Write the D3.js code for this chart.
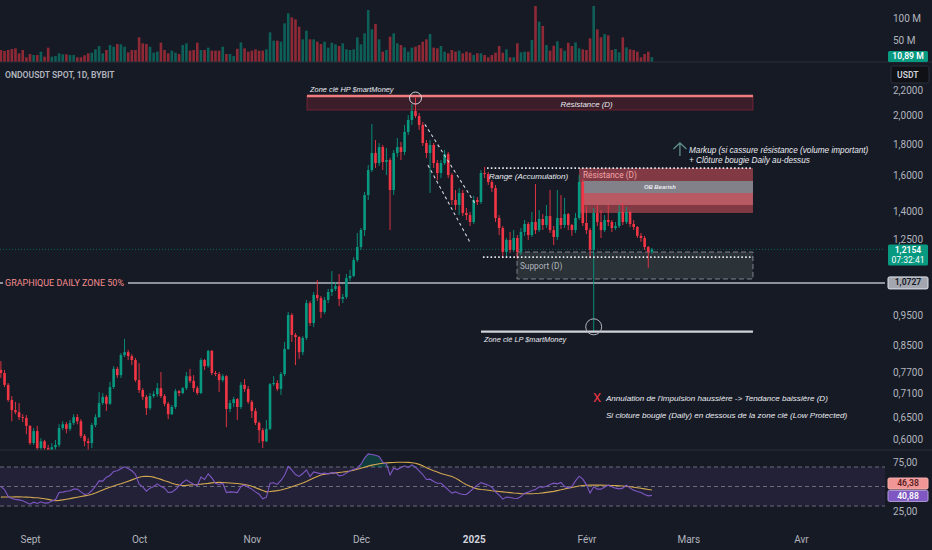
<!DOCTYPE html>
<html>
<head>
<meta charset="utf-8">
<script src="https://cdnjs.cloudflare.com/ajax/libs/d3/7.8.5/d3.min.js"></script>
<style>
  html, body { margin: 0; padding: 0; background: #161a25; }
  svg { display: block; }
  text { font-family: Roboto, "Liberation Sans", sans-serif; }
  .note { font-family: "Liberation Sans", Roboto, sans-serif; font-style: italic; fill: #e9ebf0; }
</style>
</head>
<body>
<svg id="chart" width="932" height="550"></svg>
<script>
// ONDOUSDT daily candles, first bar 2024-08-24, last bar 2025-02-19
var firstDay = "2024-08-24"
var firstOpen = 0.776

var closes = [
  0.767, 0.734, 0.694, 0.668, 0.663, 0.651, 0.649, 0.630, 0.591, 0.618,
  0.580, 0.595, 0.580, 0.572, 0.582, 0.587, 0.625, 0.634, 0.623, 0.637,
  0.651, 0.641, 0.607, 0.595, 0.591, 0.632, 0.651, 0.686, 0.702, 0.684,
  0.728, 0.779, 0.761, 0.820, 0.829, 0.817, 0.805, 0.747, 0.720, 0.702,
  0.673, 0.704, 0.709, 0.725, 0.704, 0.684, 0.658, 0.676, 0.717, 0.712,
  0.725, 0.758, 0.745, 0.725, 0.712, 0.805, 0.787, 0.833, 0.767, 0.764,
  0.747, 0.758, 0.671, 0.686, 0.696, 0.676, 0.734, 0.723, 0.689, 0.666,
  0.637, 0.620, 0.595, 0.623, 0.736, 0.739, 0.723, 0.764, 0.839, 0.952,
  0.884, 0.877, 0.829, 0.874, 0.995, 0.924, 1.026, 1.014, 0.963, 1.007,
  1.037, 1.049, 1.060, 1.011, 1.018, 1.092, 1.101, 1.168, 1.226, 1.306,
  1.488, 1.633, 1.740, 1.676, 1.779, 1.683, 1.695, 1.516, 1.740, 1.779,
  1.747, 1.882, 1.968, 2.035, 1.997, 1.931, 1.806, 1.740, 1.793, 1.676,
  1.615, 1.676, 1.733, 1.603, 1.461, 1.434, 1.499, 1.392, 1.381, 1.346,
  1.461, 1.450, 1.615, 1.609, 1.562, 1.527, 1.366, 1.316, 1.204, 1.259,
  1.213, 1.268, 1.204, 1.297, 1.336, 1.282, 1.346, 1.306, 1.361, 1.331,
  1.376, 1.306, 1.273, 1.366, 1.331, 1.386, 1.331, 1.306, 1.366, 1.562,
  1.341, 1.306, 1.213, 1.392, 1.346, 1.306, 1.356, 1.346, 1.316, 1.326,
  1.397, 1.346, 1.397, 1.336, 1.321, 1.278, 1.268, 1.226, 1.204, 1.2154
]

var highs = [
  0.802, 0.776, 0.739, 0.704, 0.689, 0.686, 0.658, 0.656, 0.632, 0.625,
  0.630, 0.602, 0.598, 0.587, 0.591, 0.598, 0.634, 0.641, 0.639, 0.644,
  0.658, 0.658, 0.646, 0.611, 0.602, 0.637, 0.658, 0.715, 0.712, 0.707,
  0.742, 0.787, 0.785, 0.826, 0.871, 0.836, 0.823, 0.811, 0.796, 0.725,
  0.707, 0.712, 0.717, 0.739, 0.770, 0.709, 0.689, 0.681, 0.723, 0.720,
  0.728, 0.770, 0.779, 0.761, 0.731, 0.811, 0.808, 0.836, 0.836, 0.773,
  0.770, 0.764, 0.761, 0.694, 0.702, 0.699, 0.742, 0.750, 0.731, 0.694,
  0.673, 0.641, 0.625, 0.644, 0.739, 0.758, 0.747, 0.770, 0.861, 0.963,
  0.959, 0.890, 0.880, 0.880, 1.007, 1.003, 1.037, 1.084, 1.022, 1.018,
  1.049, 1.121, 1.076, 1.109, 1.030, 1.109, 1.126, 1.181, 1.292, 1.316,
  1.505, 1.664, 1.938, 1.826, 1.806, 1.793, 1.773, 1.708, 1.760, 1.840,
  1.813, 1.931, 2.004, 2.088, 2.139, 2.019, 1.953, 1.826, 1.826, 1.806,
  1.695, 1.695, 1.760, 1.747, 1.615, 1.516, 1.527, 1.516, 1.418, 1.397,
  1.483, 1.477, 1.633, 1.652, 1.621, 1.574, 1.545, 1.381, 1.326, 1.268,
  1.297, 1.306, 1.282, 1.316, 1.356, 1.346, 1.397, 1.550, 1.407, 1.386,
  1.434, 1.516, 1.326, 1.516, 1.488, 1.472, 1.392, 1.336, 1.392, 1.603,
  1.579, 1.428, 1.316, 1.418, 1.434, 1.407, 1.381, 1.434, 1.356, 1.346,
  1.434, 1.444, 1.423, 1.403, 1.356, 1.326, 1.292, 1.278, 1.231, 1.222
]

var lows = [
  0.753, 0.728, 0.689, 0.641, 0.658, 0.644, 0.639, 0.611, 0.587, 0.587,
  0.576, 0.574, 0.572, 0.561, 0.565, 0.576, 0.582, 0.620, 0.613, 0.618,
  0.632, 0.634, 0.602, 0.584, 0.572, 0.580, 0.627, 0.649, 0.681, 0.666,
  0.681, 0.723, 0.753, 0.753, 0.814, 0.805, 0.790, 0.742, 0.712, 0.694,
  0.656, 0.668, 0.699, 0.702, 0.699, 0.678, 0.646, 0.656, 0.671, 0.704,
  0.709, 0.720, 0.739, 0.715, 0.707, 0.709, 0.776, 0.782, 0.761, 0.758,
  0.715, 0.742, 0.627, 0.663, 0.676, 0.644, 0.671, 0.715, 0.684, 0.649,
  0.632, 0.591, 0.580, 0.593, 0.620, 0.731, 0.717, 0.707, 0.758, 0.836,
  0.861, 0.790, 0.808, 0.820, 0.867, 0.914, 0.910, 1.003, 0.941, 0.956,
  0.995, 1.022, 1.041, 0.984, 0.995, 1.011, 1.080, 1.096, 1.160, 1.213,
  1.278, 1.461, 1.621, 1.646, 1.658, 1.633, 1.603, 1.306, 1.488, 1.714,
  1.695, 1.727, 1.861, 1.931, 1.982, 1.896, 1.786, 1.708, 1.499, 1.646,
  1.574, 1.585, 1.664, 1.585, 1.434, 1.407, 1.381, 1.376, 1.356, 1.326,
  1.336, 1.434, 1.439, 1.585, 1.545, 1.505, 1.346, 1.282, 1.177, 1.181,
  1.199, 1.204, 1.173, 1.190, 1.278, 1.259, 1.273, 1.287, 1.297, 1.306,
  1.316, 1.292, 1.235, 1.259, 1.311, 1.316, 1.306, 1.278, 1.292, 1.356,
  1.326, 1.287, 1.177, 0.894, 1.326, 1.268, 1.297, 1.326, 1.297, 1.306,
  1.316, 1.331, 1.336, 1.321, 1.306, 1.268, 1.250, 1.213, 1.135, 1.195
]

// volume in millions
var volumes = [
  27.3, 25.0, 27.3, 29.5, 31.1, 19.7, 27.3, 10.6, 18.2, 15.9,
  15.9, 23.5, 12.1, 32.6, 12.1, 13.6, 19.7, 17.4, 17.4, 15.9,
  15.9, 10.6, 10.6, 15.2, 19.7, 21.2, 28.8, 36.4, 19.7, 27.3,
  38.6, 34.8, 40.9, 40.2, 34.8, 22.0, 27.3, 27.3, 56.1, 42.4,
  40.9, 34.8, 21.2, 23.5, 43.9, 27.3, 19.7, 25.8, 21.2, 18.2,
  38.6, 42.4, 25.8, 27.3, 43.9, 27.3, 27.3, 32.6, 25.8, 25.8,
  25.8, 34.8, 18.2, 18.2, 13.6, 30.0, 44.7, 31.1, 23.5, 25.8,
  28.8, 25.8, 25.8, 28.8, 67.4, 48.5, 48.5, 46.2, 87.9, 110.6,
  101.5, 97.0, 80.3, 51.5, 71.2, 51.5, 51.5, 46.2, 40.9, 46.2,
  32.6, 43.9, 40.2, 36.4, 42.4, 28.8, 27.3, 28.8, 56.1, 40.2,
  65.2, 118.2, 74.2, 86.4, 51.5, 23.5, 27.3, 57.6, 65.2, 42.4,
  38.6, 33.3, 23.5, 32.6, 34.8, 38.6, 46.2, 51.5, 63.6, 32.6,
  31.1, 36.4, 23.5, 19.7, 27.3, 23.5, 25.8, 19.7, 23.5, 21.2,
  15.9, 19.7, 19.7, 15.9, 10.6, 15.9, 21.2, 36.4, 21.2, 28.8,
  10.6, 10.6, 42.4, 22.0, 23.5, 23.5, 50.0, 127.3, 91.7, 81.8,
  38.6, 25.8, 37.1, 47.0, 31.1, 25.8, 43.9, 36.4, 44.7, 31.1,
  28.8, 27.3, 53.8, 127.3, 74.2, 56.1, 63.6, 60.6, 27.3, 29.5,
  22.0, 56.1, 33.3, 28.8, 27.3, 23.5, 10.6, 18.2, 23.5, 10.89
]

var rsi = [
  49.7, 46.9, 39.7, 37.7, 36.8, 36.3, 35.3, 33.6, 31.9, 33.9,
  32.6, 34.3, 32.9, 33.2, 35.0, 36.3, 43.8, 44.2, 45.2, 45.6,
  47.3, 47.3, 44.5, 41.8, 42.5, 45.9, 50.3, 55.8, 55.5, 59.6,
  61.3, 65.4, 66.1, 68.1, 70.2, 68.5, 66.1, 62.6, 52.4, 49.7,
  45.2, 48.3, 50.0, 52.7, 50.0, 48.3, 43.8, 44.2, 46.9, 50.7,
  54.1, 56.8, 54.4, 52.4, 51.0, 59.6, 57.2, 63.0, 58.9, 53.4,
  52.1, 53.4, 43.8, 44.5, 44.2, 43.8, 50.0, 51.4, 49.3, 47.3,
  44.5, 42.1, 37.4, 39.1, 53.4, 53.8, 52.1, 56.2, 61.6, 70.5,
  66.8, 62.3, 60.3, 63.3, 67.1, 60.3, 65.0, 64.0, 63.0, 63.7,
  63.0, 64.0, 64.4, 60.9, 61.6, 63.7, 66.1, 67.8, 68.8, 72.9,
  79.1, 83.5, 82.8, 82.1, 80.8, 75.0, 73.2, 62.0, 68.8, 67.4,
  69.5, 71.2, 69.5, 72.2, 69.8, 66.1, 62.3, 57.2, 57.5, 55.1,
  53.4, 53.4, 50.0, 46.6, 43.2, 44.5, 42.8, 41.8, 41.8, 44.9,
  48.3, 51.4, 54.1, 52.7, 51.4, 49.3, 44.5, 41.1, 37.0, 39.1,
  38.7, 38.0, 37.7, 39.7, 43.2, 44.2, 45.9, 46.9, 49.7, 49.3,
  50.3, 52.1, 53.4, 52.7, 54.1, 50.0, 48.6, 50.0, 55.8, 60.6,
  57.5, 51.7, 43.2, 49.7, 47.3, 47.3, 49.3, 51.4, 49.7, 48.3,
  47.6, 48.3, 51.4, 48.3, 46.2, 44.9, 43.8, 41.8, 40.4, 40.88
]

var rsiMa = [
  39.1, 39.2, 39.3, 39.3, 39.4, 39.4, 39.3, 39.1, 38.9, 38.6,
  38.4, 38.0, 37.4, 36.8, 36.0, 35.5, 35.8, 36.3, 37.0, 37.6,
  38.3, 39.0, 39.7, 40.4, 41.0, 42.0, 43.3, 44.8, 46.3, 47.9,
  49.3, 50.6, 51.7, 52.8, 54.0, 55.4, 56.8, 58.2, 59.4, 60.2,
  60.4, 60.2, 59.6, 58.5, 57.3, 56.0, 54.8, 53.4, 52.3, 51.4,
  51.0, 51.2, 51.5, 51.8, 52.1, 52.4, 52.8, 53.2, 53.7, 54.1,
  54.2, 54.1, 53.9, 53.6, 53.3, 53.0, 52.6, 52.0, 51.3, 50.2,
  48.8, 47.3, 45.8, 44.5, 44.8, 45.3, 45.8, 46.4, 47.4, 48.5,
  49.7, 51.0, 52.2, 53.6, 55.1, 56.8, 58.6, 60.3, 61.8, 62.6,
  63.2, 63.7, 64.0, 64.4, 64.8, 65.3, 65.9, 66.7, 67.6, 68.7,
  69.8, 70.9, 71.9, 72.6, 73.3, 73.8, 74.2, 74.5, 74.6, 74.8,
  74.9, 74.9, 74.7, 74.4, 73.8, 72.7, 71.2, 69.3, 67.6, 66.2,
  64.9, 63.4, 62.3, 61.3, 60.3, 58.6, 56.4, 54.0, 51.8, 50.2,
  48.8, 47.6, 47.0, 46.6, 46.2, 45.7, 45.3, 44.9, 44.5, 44.1,
  43.7, 43.3, 43.0, 42.7, 42.5, 42.5, 42.6, 42.8, 43.1, 43.5,
  44.0, 44.5, 45.0, 45.8, 46.6, 47.5, 48.3, 49.0, 49.7, 50.5,
  51.0, 51.3, 51.4, 51.4, 51.4, 51.4, 51.3, 51.2, 51.0, 50.9,
  50.7, 50.5, 50.2, 49.8, 49.3, 48.8, 48.2, 47.6, 47.0, 46.38
]

var priceTicks = [2.2, 2.0, 1.8, 1.6, 1.4, 1.25, 0.95, 0.85, 0.77, 0.71, 0.65, 0.60]
var volumeTicks = [50, 100]
var rsiTicks = [25, 75]
var rsiLevels = [70, 50, 30]
var monthTicks = ["2024-09-01", "2024-10-01", "2024-11-01", "2024-12-01", "2025-01-01", "2025-02-01", "2025-03-01", "2025-04-01"]
var monthLabels = ["Sept", "Oct", "Nov", "Déc", "2025", "Févr", "Mars", "Avr"]

// drawing anchors (time, price)
var zone50 = 1.0727
var hpZone = ["2024-11-16T04", "2025-03-18T19", 2.151, 2.042]
var hpMark = ["2024-12-16", 2.135]
var channelA = [["2024-12-18T14", 1.936], ["2025-01-01T15", 1.434]]
var channelB = [["2024-12-19T10", 1.664], ["2024-12-31T06", 1.240]]
var rangeTop = ["2025-01-04T16", "2025-03-18T19", 1.645]
var rangeBottom = ["2025-01-03T13", "2025-03-18T19", 1.181]
var resistBox = ["2025-01-29T23", "2025-03-18T19", 1.645, 1.392]
var obBox = ["2025-01-30T23", "2025-03-18T19", 1.568, 1.499, 1.434]
var supportBox = ["2025-01-12T22", "2025-03-18T19", 1.2036, 1.0886]
var lpZone = ["2025-01-03", "2025-03-18T19", 0.895]
var lpMark = ["2025-02-03", 0.911]
var notes = [
  { t: "2024-11-17", p: 2.184, text: "Zone clé HP $martMoney", anchor: "start", size: 7.4 },
  { t: "2025-02-01T01", p: 2.065, text: "Résistance (D)", anchor: "middle", size: 7.9 },
  { t: "2025-01-05T05", p: 1.580, text: "Range (Accumulation)", anchor: "start", size: 8 },
  { t: "2025-02-21T05", p: 1.519, text: "OB Bearish", anchor: "middle", size: 5.9, bold: true },
  { t: "2025-03-01T05", p: 1.743, text: "Markup (si cassure résistance (volume important)", anchor: "start", size: 8.2 },
  { t: "2025-03-01T05", p: 1.679, text: "+ Clôture bougie Daily au-dessus", anchor: "start", size: 8.2 },
  { t: "2025-01-03T20", p: 0.861, text: "Zone clé LP $martMoney", anchor: "start", size: 7.4 },
  { t: "2025-02-06T09", p: 0.690, text: "Annulation de l'impulsion haussière -> Tendance baissière (D)", anchor: "start", size: 8.1 },
  { t: "2025-02-06T09", p: 0.6476, text: "Si cloture bougie (Daily) en dessous de la zone clé (Low Protected)", anchor: "start", size: 8.1 }
]
var resistLabel = ["2025-01-31T01", 1.585]
var supportLabel = ["2025-01-13T17", 1.130]
var markupArrow = ["2025-02-26T17", 1.806, 1.721]
var crossMark = ["2025-02-03T22", 0.7016]

var UP = "#089981", DOWN = "#f23645", BG = "#161a25", AXIS_TXT = "#b2b5be"
var W = 932, H = 550, plotR = 885

var parseDay = d3.utcParse("%Y-%m-%d"), parseHour = d3.utcParse("%Y-%m-%dT%H")
function T(s) { return s.length > 10 ? parseHour(s) : parseDay(s) }

var fr = d3.formatLocale({ decimal: ",", thousands: " ", grouping: [3], currency: ["", " €"] })
var f4 = fr.format(".4f"), f2 = fr.format(".2f")

var x = d3.scaleUtc().domain([T("2024-09-01"), T("2025-04-01")]).range([30, 801])
var y = d3.scaleLog().domain([0.6, 2.2]).range([439, 90])
var yVol = d3.scaleLinear().domain([0, 141]).range([62, 0])
var yRsi = d3.scaleLinear().domain([30, 70]).range([506, 467])

var day0 = T(firstDay)
var candles = closes.map(function(c, i) {
    var o = i ? closes[i - 1] : firstOpen
    return { date: d3.utcDay.offset(day0, i), o: o, h: highs[i], l: lows[i], c: c, v: volumes[i], up: c >= o }
})
var last = candles[candles.length - 1]

var svg = d3.select("#chart")
svg.append("rect").attr("width", W).attr("height", H).attr("fill", BG)

var defs = svg.append("defs")
function clip(id, x0, y0, w, h) {
    defs.append("clipPath").attr("id", id).append("rect")
        .attr("x", x0).attr("y", y0).attr("width", w).attr("height", h)
}
clip("cp-price", 0, 63, plotR, 387)
clip("cp-vol", 0, 0, plotR, 62)
clip("cp-rsi", 0, 451, plotR, 72)

// ---- RSI pane background
var rsiG = svg.append("g").attr("clip-path", "url(#cp-rsi)")
rsiG.append("rect")
    .attr("x", 0).attr("width", plotR)
    .attr("y", yRsi(70)).attr("height", yRsi(30) - yRsi(70))
    .attr("fill", "rgba(126,87,194,0.12)")
rsiG.selectAll(".lvl").data(rsiLevels).enter().append("line")
    .attr("x1", 0).attr("x2", plotR)
    .attr("y1", function(d) { return yRsi(d) }).attr("y2", function(d) { return yRsi(d) })
    .attr("stroke", "#6a6d78").attr("stroke-width", 1).attr("stroke-dasharray", "4,3")

// ---- price pane
var pg = svg.append("g").attr("clip-path", "url(#cp-price)")

// boxes under candles
pg.append("rect")
    .attr("x", x(T(hpZone[0]))).attr("width", x(T(hpZone[1])) - x(T(hpZone[0])))
    .attr("y", y(hpZone[2])).attr("height", y(hpZone[3]) - y(hpZone[2]))
    .attr("fill", "rgba(242,54,69,0.17)").attr("stroke", "rgba(242,54,69,0.35)").attr("stroke-width", 1)

pg.append("rect")
    .attr("x", x(T(resistBox[0]))).attr("width", x(T(resistBox[1])) - x(T(resistBox[0])))
    .attr("y", y(resistBox[2])).attr("height", y(resistBox[3]) - y(resistBox[2]))
    .attr("fill", "rgba(235,90,100,0.5)")

pg.append("rect")
    .attr("x", x(T(obBox[0]))).attr("width", x(T(obBox[1])) - x(T(obBox[0])))
    .attr("y", y(obBox[2])).attr("height", y(obBox[4]) - y(obBox[2]))
    .attr("fill", "rgba(250,130,140,0.45)")
pg.append("rect")
    .attr("x", x(T(obBox[0]))).attr("width", x(T(obBox[1])) - x(T(obBox[0])))
    .attr("y", y(obBox[2])).attr("height", y(obBox[3]) - y(obBox[2]))
    .attr("fill", "rgba(128,129,138,0.97)")

pg.append("rect")
    .attr("x", x(T(supportBox[0]))).attr("width", x(T(supportBox[1])) - x(T(supportBox[0])))
    .attr("y", y(supportBox[2])).attr("height", y(supportBox[3]) - y(supportBox[2]))
    .attr("fill", "rgba(140,160,145,0.18)").attr("stroke", "#80838d").attr("stroke-width", 1)
    .attr("stroke-dasharray", "5,3")

// horizontal level 50% + current price
pg.append("line")
    .attr("x1", 0).attr("x2", plotR).attr("y1", y(zone50)).attr("y2", y(zone50))
    .attr("stroke", "#b8bac2").attr("stroke-width", 1.4)
pg.append("line")
    .attr("x1", 0).attr("x2", plotR).attr("y1", y(last.c)).attr("y2", y(last.c))
    .attr("stroke", UP).attr("stroke-opacity", 0.6).attr("stroke-width", 1).attr("stroke-dasharray", "1,2")

// candles
var cw = 2.6
var cg = pg.append("g")
cg.selectAll(".wick").data(candles).enter().append("line")
    .attr("x1", function(d) { return x(d.date) }).attr("x2", function(d) { return x(d.date) })
    .attr("y1", function(d) { return y(d.h) }).attr("y2", function(d) { return y(d.l) })
    .attr("stroke", function(d) { return d.up ? UP : DOWN }).attr("stroke-width", 0.9)
cg.selectAll(".body").data(candles).enter().append("rect")
    .attr("x", function(d) { return x(d.date) - cw / 2 }).attr("width", cw)
    .attr("y", function(d) { return y(Math.max(d.o, d.c)) })
    .attr("height", function(d) { return Math.max(0.9, Math.abs(y(d.o) - y(d.c))) })
    .attr("fill", function(d) { return d.up ? UP : DOWN })

// drawings above candles
pg.append("line")
    .attr("x1", x(T(hpZone[0]))).attr("x2", x(T(hpZone[1])))
    .attr("y1", y(hpZone[2])).attr("y2", y(hpZone[2]))
    .attr("stroke", "#f07c7f").attr("stroke-width", 2.6)

pg.append("circle")
    .attr("cx", x(T(hpMark[0]))).attr("cy", y(hpMark[1])).attr("r", 6)
    .attr("fill", "none").attr("stroke", "#d1d4dc").attr("stroke-width", 1)

;[channelA, channelB].forEach(function(seg) {
    pg.append("line")
        .attr("x1", x(T(seg[0][0]))).attr("y1", y(seg[0][1]))
        .attr("x2", x(T(seg[1][0]))).attr("y2", y(seg[1][1]))
        .attr("stroke", "#d1d4dc").attr("stroke-width", 1.1).attr("stroke-dasharray", "3,3")
})

;[rangeTop, rangeBottom].forEach(function(r) {
    pg.append("line")
        .attr("x1", x(T(r[0]))).attr("x2", x(T(r[1])))
        .attr("y1", y(r[2])).attr("y2", y(r[2]))
        .attr("stroke", "#e8e9ee").attr("stroke-width", 1.6).attr("stroke-dasharray", "1.6,2.2")
})

pg.append("line")
    .attr("x1", x(T(lpZone[0]))).attr("x2", x(T(lpZone[1])))
    .attr("y1", y(lpZone[2])).attr("y2", y(lpZone[2]))
    .attr("stroke", "#cfd2d8").attr("stroke-width", 2.4)

pg.append("circle")
    .attr("cx", x(T(lpMark[0]))).attr("cy", y(lpMark[1])).attr("r", 8)
    .attr("fill", "none").attr("stroke", "#b2b5be").attr("stroke-width", 1)

// labels in boxes
pg.append("text")
    .attr("x", x(T(resistLabel[0]))).attr("y", y(resistLabel[1]))
    .attr("font-size", 8.3).attr("fill", "#f5a3aa").text("Résistance (D)")
pg.append("text")
    .attr("x", x(T(supportLabel[0]))).attr("y", y(supportLabel[1]))
    .attr("font-size", 8.3).attr("fill", "#b2b5be").text("Support (D)")

pg.selectAll(".note").data(notes).enter().append("text")
    .attr("class", "note")
    .attr("x", function(d) { return x(T(d.t)) }).attr("y", function(d) { return y(d.p) })
    .attr("text-anchor", function(d) { return d.anchor })
    .attr("font-size", function(d) { return d.size })
    .attr("font-weight", function(d) { return d.bold ? 700 : 400 })
    .text(function(d) { return d.text })

// markup arrow
var ax = x(T(markupArrow[0])), ay0 = y(markupArrow[1]), ay1 = y(markupArrow[2])
pg.append("path")
    .attr("d", "M" + (ax - 6.5) + "," + (ay0 + 6) + "L" + ax + "," + ay0 + "L" + (ax + 6.5) + "," + (ay0 + 6) +
        "M" + ax + "," + ay0 + "L" + ax + "," + ay1)
    .attr("fill", "none").attr("stroke", "#5f8e87").attr("stroke-width", 1.3)

pg.append("text")
    .attr("x", x(T(crossMark[0]))).attr("y", y(crossMark[1]))
    .attr("text-anchor", "middle").attr("dy", "0.36em")
    .attr("font-size", 13).attr("fill", DOWN).text("X")

// 50% label with gap in the line
pg.append("rect").attr("x", 3).attr("y", y(zone50) - 6).attr("width", 125).attr("height", 12).attr("fill", BG)
pg.append("text").attr("x", 5).attr("y", y(zone50)).attr("dy", "0.36em")
    .attr("font-size", 9).attr("fill", "#f48c8c").text("GRAPHIQUE DAILY ZONE 50%")

// ---- volume pane
var vg = svg.append("g").attr("clip-path", "url(#cp-vol)")
vg.selectAll("rect").data(candles).enter().append("rect")
    .attr("x", function(d) { return x(d.date) - cw / 2 }).attr("width", cw)
    .attr("y", function(d) { return yVol(d.v) })
    .attr("height", function(d) { return yVol(0) - yVol(d.v) })
    .attr("fill", function(d) { return d.up ? UP : DOWN }).attr("fill-opacity", 0.55)

// ---- RSI lines
var rsiPts = candles.map(function(d, i) { return { date: d.date, r: rsi[i], m: rsiMa[i] } })
rsiG.append("path").datum(rsiPts)
    .attr("d", d3.area()
        .x(function(d) { return x(d.date) })
        .y0(yRsi(70))
        .y1(function(d) { return yRsi(Math.max(d.r, 70)) }))
    .attr("fill", "rgba(8,153,129,0.28)")
rsiG.append("path").datum(rsiPts)
    .attr("d", d3.line().x(function(d) { return x(d.date) }).y(function(d) { return yRsi(d.m) }))
    .attr("fill", "none").attr("stroke", "#d3a84f").attr("stroke-width", 1.1)
rsiG.append("path").datum(rsiPts)
    .attr("d", d3.line().x(function(d) { return x(d.date) }).y(function(d) { return yRsi(d.r) }))
    .attr("fill", "none").attr("stroke", "#7e57c2").attr("stroke-width", 1.1)

// pane separators
;[62, 450].forEach(function(sy) {
    svg.append("line").attr("x1", 0).attr("x2", W).attr("y1", sy).attr("y2", sy)
        .attr("stroke", "#2a2e39").attr("stroke-width", 1.2)
})

// ---- axes
function styleAxis(g) {
    g.select(".domain").remove()
    g.selectAll("line").remove()
    g.selectAll("text").attr("fill", AXIS_TXT)
}
var ya = svg.append("g").attr("transform", "translate(893,0)")
    .attr("font-size", 8.6)
    .call(d3.axisRight(y).tickValues(priceTicks).tickFormat(f4).tickSize(0).tickPadding(0))
    .call(styleAxis)
// the 1,2500 label sits just above the live price tag
ya.selectAll("text").filter(function(d) { return d === 1.25 }).attr("dy", "0.05em")
svg.append("g").attr("transform", "translate(893,0)")
    .attr("font-size", 8.6)
    .call(d3.axisRight(yVol).tickValues(volumeTicks).tickFormat(function(d) { return d + " M" }).tickSize(0).tickPadding(0))
    .call(styleAxis)
svg.append("g").attr("transform", "translate(893,0)")
    .attr("font-size", 8.6)
    .call(d3.axisRight(yRsi).tickValues(rsiTicks).tickFormat(f2).tickSize(0).tickPadding(0))
    .call(styleAxis)
var xa = svg.append("g").attr("transform", "translate(0,533)")
    .attr("font-size", 9)
    .call(d3.axisBottom(x).tickValues(monthTicks.map(T)).tickFormat(function(d, i) { return monthLabels[i] }).tickSize(0).tickPadding(3))
    .call(styleAxis)
xa.selectAll("text").filter(function(d, i) { return monthLabels[i] === "2025" })
    .attr("font-weight", 700).attr("fill", "#d1d4dc")

// ---- right-side tags
function tag(cy, h, fill, lines, txtFill, stroke) {
    var g = svg.append("g")
    g.append("rect").attr("x", 888).attr("y", cy - h / 2).attr("width", 40).attr("height", h)
        .attr("rx", 1.5).attr("fill", fill).attr("stroke", stroke || "none")
    lines.forEach(function(t, k) {
        g.append("text").attr("x", 908).attr("y", cy - h / 2 + 8.2 + k * 10.5)
            .attr("text-anchor", "middle").attr("font-size", 8.6)
            .attr("font-weight", k === 0 ? 600 : 400)
            .attr("fill", txtFill).text(t)
    })
}
tag(y(last.c) + 5.5, 21, UP, [f4(last.c), "07:32:41"], "#ffffff")
tag(y(zone50), 12, "#a3a6af", [f4(zone50)], "#131722", "#e0e3eb")
tag(56.5, 11, UP, [fr.format(".2f")(last.v) + " M"], "#ffffff")
tag(yRsi(rsiMa[rsiMa.length - 1]) - 6.5, 11, "#f09696", [f2(rsiMa[rsiMa.length - 1])], "#5b1f24", "#f7b0b0")
tag(yRsi(rsi[rsi.length - 1]) + 0.5, 11, "#7e57c2", [f2(rsi[rsi.length - 1])], "#ffffff", "#b39ddb")

// currency box
svg.append("rect").attr("x", 891).attr("y", 66).attr("width", 38).attr("height", 17).attr("rx", 2)
    .attr("fill", "#0f1117").attr("stroke", "#2a2e39")
svg.append("text").attr("x", 897).attr("y", 78).attr("font-size", 8.6).attr("font-weight", 600)
    .attr("fill", "#d1d4dc").text("USDT")

// header
svg.append("text").attr("x", 5).attr("y", 77.5).attr("font-size", 8.6).attr("font-weight", 600)
    .attr("fill", AXIS_TXT).text("ONDOUSDT SPOT, 1D, BYBIT")
</script>
</body>
</html>
